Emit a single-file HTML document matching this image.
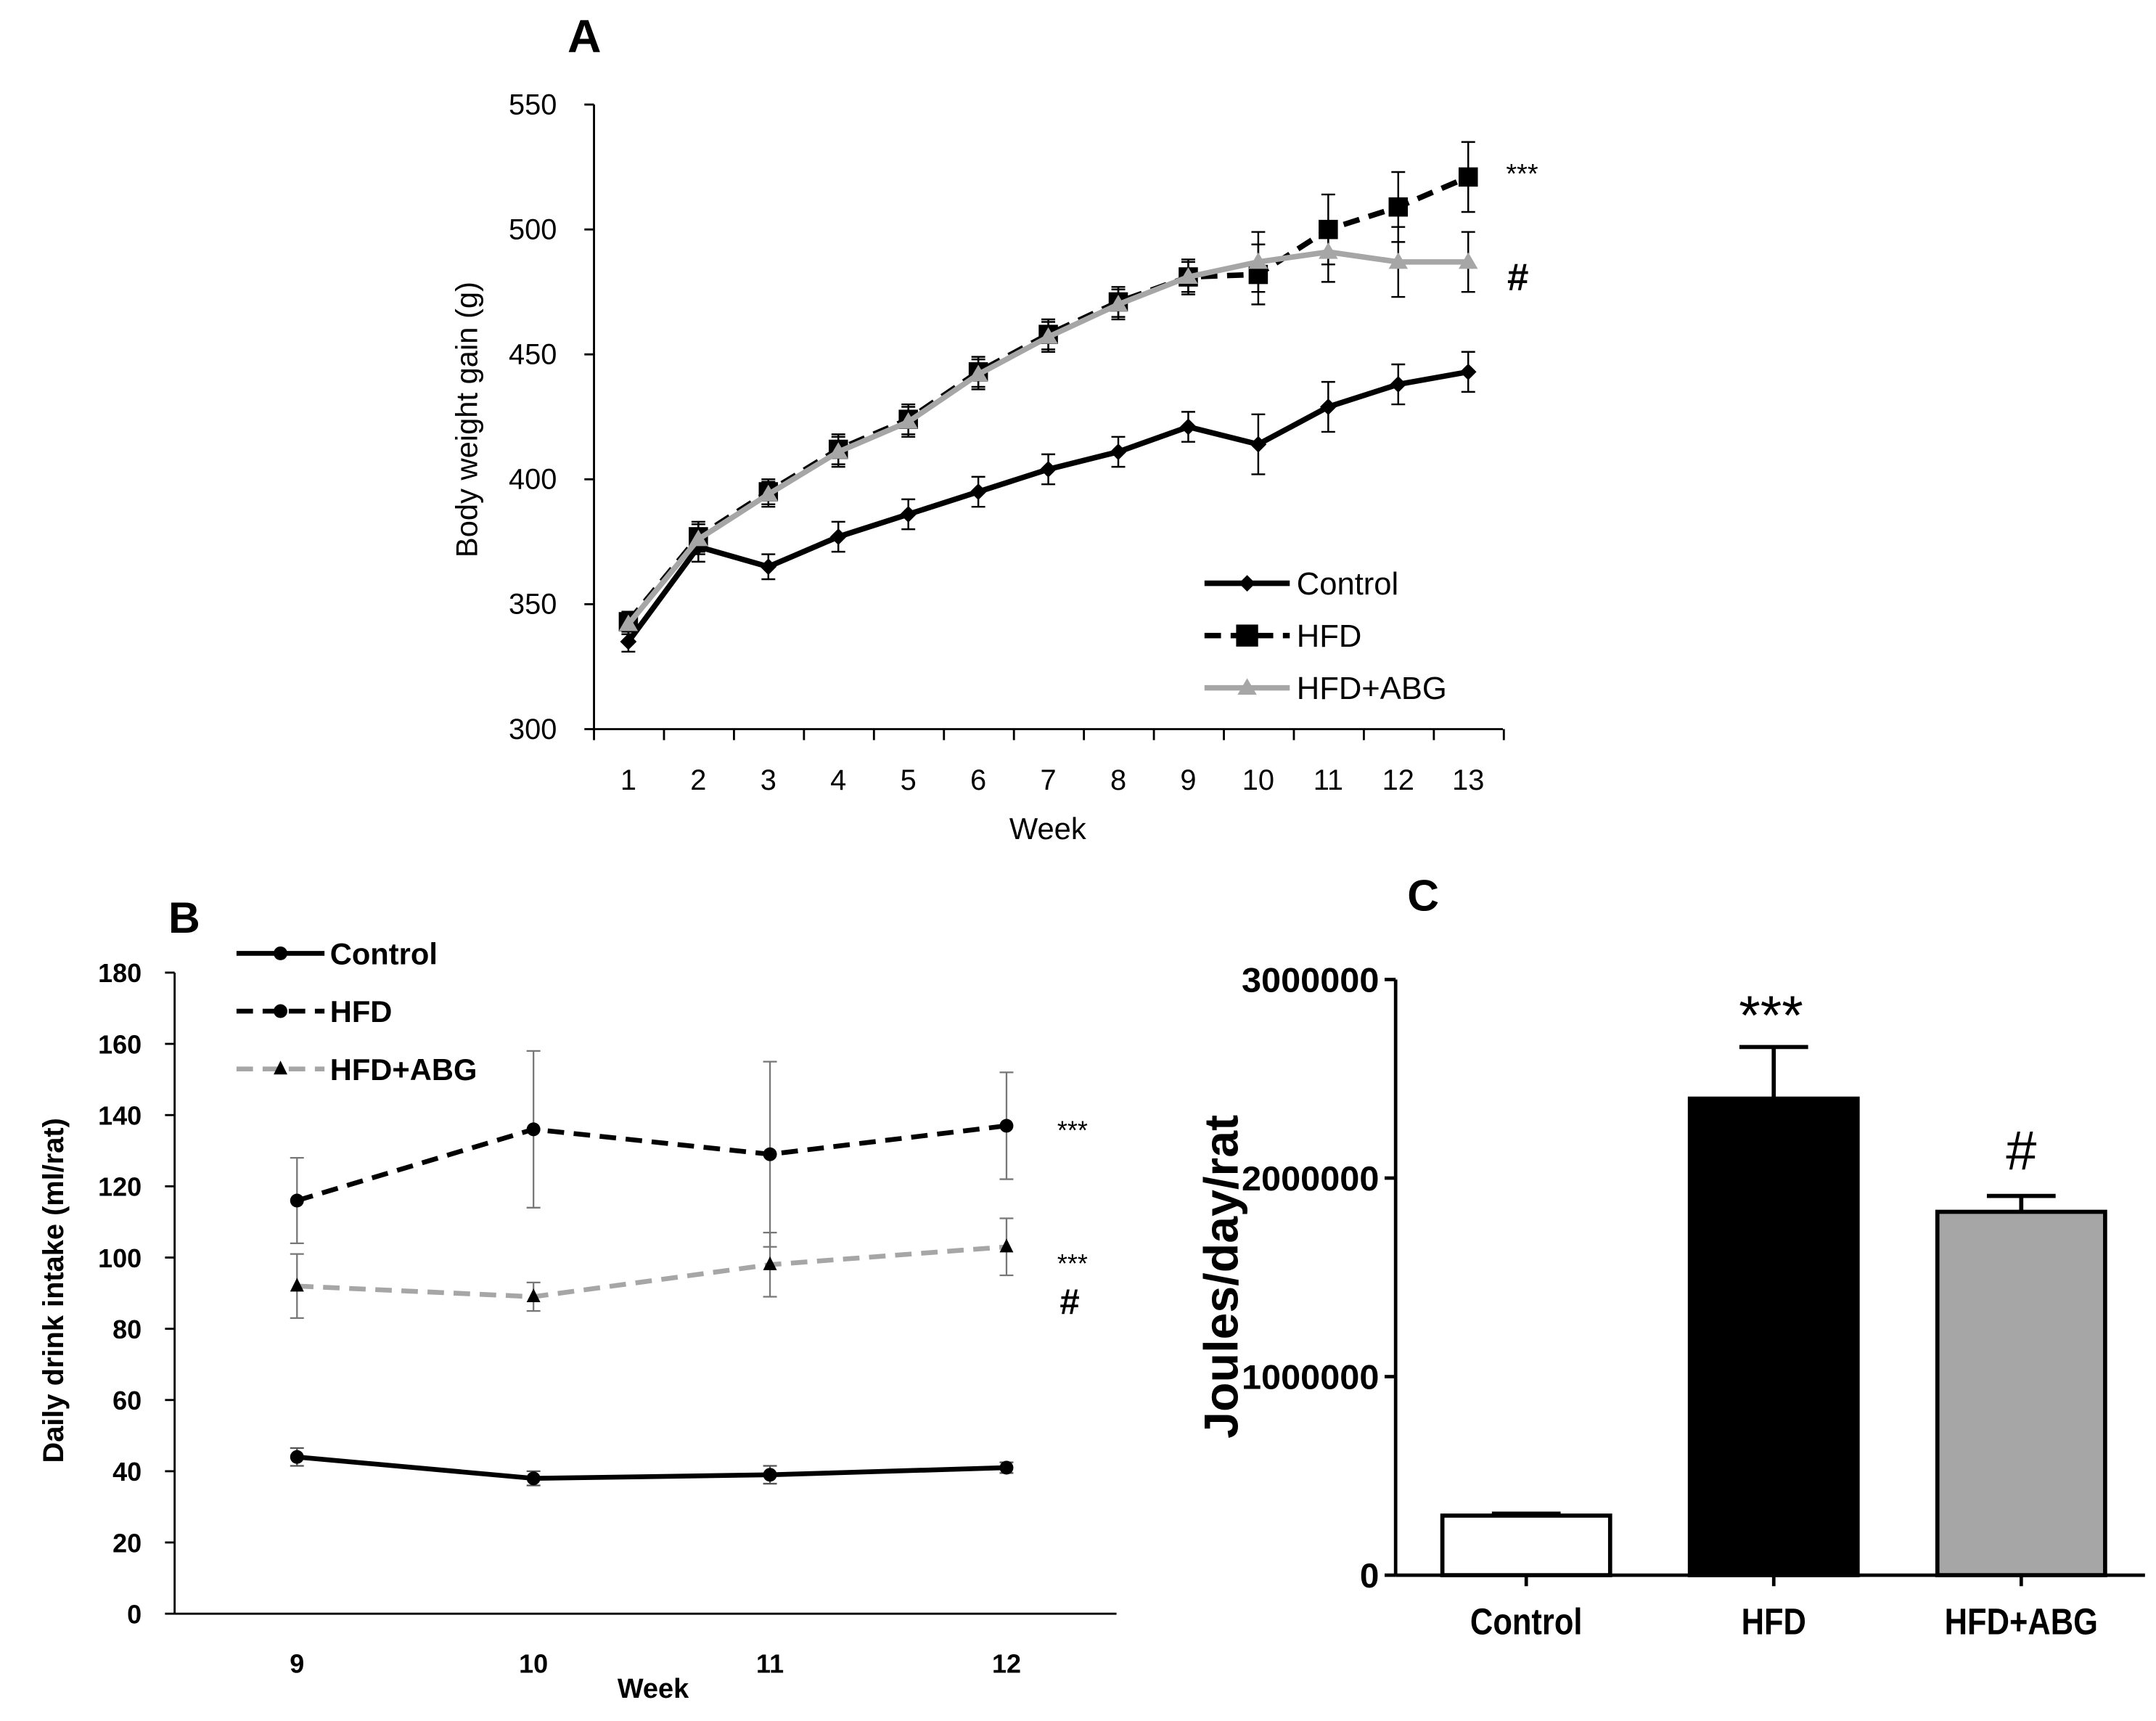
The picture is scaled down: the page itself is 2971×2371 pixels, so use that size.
<!DOCTYPE html>
<html><head><meta charset="utf-8"><style>
html,body{margin:0;padding:0;background:#fff}
svg{display:block}
text{font-family:"Liberation Sans",sans-serif}
</style></head><body>
<svg id="fig" width="2971" height="2371" viewBox="0 0 1568 1251" preserveAspectRatio="none" xmlns="http://www.w3.org/2000/svg">
<rect width="1568" height="1251" fill="#fff"/>
<g id="pa"></g>
<g id="pb"></g>
<g id="pc"></g>
</svg>
<script>
const NS="http://www.w3.org/2000/svg";
// Panel A data
const weeksA=[1,2,3,4,5,6,7,8,9,10,11,12,13];
const ticksA=[300,350,400,450,500,550];
const ctrlA=[335,373,365,377,386,395,404,411,421,414,429,438,443];
const ctrlAErr=[4,6,5,6,6,6,6,6,6,12,10,8,8];
const hfdA=[343,377,395,412,424,443,458,471,481,482,500,509,521];
const hfdAErr=[4,6,5,6,6,6,6,6,7,12,14,14,14];
const abgA=[342,376,394,411,423,442,457,470,481,487,491,487,487];
const abgAErr=[4,6,5,6,6,6,6,6,6,12,12,14,12];
// Panel B data
const weeksB=[9,10,11,12];
const ticksB=[0,20,40,60,80,100,120,140,160,180];
const ctrlB=[44,38,39,41];
const ctrlBErr=[2.5,2,2.5,1.5];
const hfdB=[116,136,129,137];
const hfdBErr=[12,22,26,15];
const abgB=[92,89,98,103];
const abgBErr=[9,4,9,8];
// Panel C data
const groupsC=["Control","HFD","HFD+ABG"];
const valuesC=[300000,2400000,1830000];
const errC=[10000,260000,80000];
const ticksC=[0,1000000,2000000,3000000];

function el(parent,tag,attrs,txt){const e=document.createElementNS(NS,tag);for(const k in attrs)e.setAttribute(k,attrs[k]);if(txt!==undefined)e.textContent=txt;parent.appendChild(e);return e;}

// ---------- Panel A ----------
(function(){
const g=document.getElementById('pa');
const xA=w=>457+(w-1)*50.9;
const yA=v=>530-(v-300)*454/250;
let t=el(g,'text',{x:425,y:38,'font-size':34,'font-weight':'bold','text-anchor':'middle'},'A');

let ax=el(g,'line',{x1:432,y1:76,x2:432,y2:530,stroke:'#000','stroke-width':1.5});

ax=el(g,'line',{x1:432,y1:530,x2:1093,y2:530,stroke:'#000','stroke-width':1.5});

ticksA.forEach(v=>{el(g,'line',{x1:425,y1:yA(v),x2:432,y2:yA(v),stroke:'#000','stroke-width':1.5});
 const l=el(g,'text',{x:405,y:yA(v)+7,'font-size':21,'text-anchor':'end'},v);
 });
for(let i=0;i<=13;i++){const x=432+i*50.9;el(g,'line',{x1:x,y1:530,x2:x,y2:538,stroke:'#000','stroke-width':1.5});}
weeksA.forEach(w=>{const l=el(g,'text',{x:xA(w),y:574,'font-size':21,'text-anchor':'middle'},w);
 });
t=el(g,'text',{x:762,y:610,'font-size':22,'text-anchor':'middle'},'Week');

t=el(g,'text',{x:0,y:0,'font-size':22,'text-anchor':'middle',transform:'translate(347,305) rotate(-90)'},'Body weight gain (g)');

function series(vals,errs,color,dash,marker,name){
 const s=el(g,'g',{});
 vals.forEach((v,i)=>{const x=xA(weeksA[i]);const e=errs[i];
  el(s,'line',{x1:x,y1:yA(v-e),x2:x,y2:yA(v+e),stroke:'#000','stroke-width':1.3});
  el(s,'line',{x1:x-5,y1:yA(v-e),x2:x+5,y2:yA(v-e),stroke:'#000','stroke-width':1.3});
  el(s,'line',{x1:x-5,y1:yA(v+e),x2:x+5,y2:yA(v+e),stroke:'#000','stroke-width':1.3});});
 el(s,'polyline',{points:vals.map((v,i)=>xA(weeksA[i])+','+yA(v)).join(' '),fill:'none',stroke:color,'stroke-width':4,'stroke-dasharray':dash});
 vals.forEach((v,i)=>{const x=xA(weeksA[i]),y=yA(v);let m;
  if(marker==='d')m=el(s,'polygon',{points:`${x},${y-6} ${x+6},${y} ${x},${y+6} ${x-6},${y}`,fill:color});
  else if(marker==='s')m=el(s,'rect',{x:x-7,y:y-7,width:14,height:14,fill:color});
  else m=el(s,'polygon',{points:`${x},${y-7} ${x+7},${y+5} ${x-7},${y+5}`,fill:color});
  });
}
series(ctrlA,ctrlAErr,'#000','none','d','control-series');
series(hfdA,hfdAErr,'#000','12,7','s','hfd-series');
series(abgA,abgAErr,'#a6a6a6','none','t','hfd-abg-series');
const leg=[['Control','#000','none','d',424],['HFD','#000','12,7','s',462],['HFD+ABG','#a6a6a6','none','t',500]];
leg.forEach(([n,c,d,m,y])=>{const lg=el(g,'g',{});
 el(lg,'line',{x1:876,y1:y,x2:938,y2:y,stroke:c,'stroke-width':4,'stroke-dasharray':d});const x=907;
 if(m==='d')el(lg,'polygon',{points:`${x},${y-6} ${x+6},${y} ${x},${y+6} ${x-6},${y}`,fill:c});
 else if(m==='s')el(lg,'rect',{x:x-8,y:y-8,width:16,height:16,fill:c});
 else el(lg,'polygon',{points:`${x},${y-7} ${x+7},${y+5} ${x-7},${y+5}`,fill:c});
 el(lg,'text',{x:943,y:y+8,'font-size':23},n);});
t=el(g,'text',{x:1107,y:133,'font-size':20,'text-anchor':'middle'},'***');
t=el(g,'text',{x:1104,y:211,'font-size':28,'font-weight':'bold','text-anchor':'middle'},'#');
})();

// ---------- Panel B ----------
(function(){
const g=document.getElementById('pb');
const xB=w=>216+(w-9)*172;
const yB=v=>1173-v*466/180;
let t=el(g,'text',{x:134,y:678,'font-size':32,'font-weight':'bold','text-anchor':'middle'},'B');

let ax=el(g,'line',{x1:127,y1:707,x2:127,y2:1173,stroke:'#000','stroke-width':1.5});
ax=el(g,'line',{x1:127,y1:1173,x2:812,y2:1173,stroke:'#000','stroke-width':1.5});
ticksB.forEach(v=>{el(g,'line',{x1:120,y1:yB(v),x2:127,y2:yB(v),stroke:'#000','stroke-width':1.5});
 const l=el(g,'text',{x:103,y:yB(v)+7,'font-size':19,'font-weight':'bold','text-anchor':'end'},v);
 });
weeksB.forEach(w=>{const l=el(g,'text',{x:xB(w),y:1216,'font-size':19,'font-weight':'bold','text-anchor':'middle'},w);
 });
t=el(g,'text',{x:475,y:1234,'font-size':20,'font-weight':'bold','text-anchor':'middle'},'Week');
t=el(g,'text',{x:0,y:0,'font-size':21,'font-weight':'bold','text-anchor':'middle',transform:'translate(46,938) rotate(-90)'},'Daily drink intake  (ml/rat)');

function series(vals,errs,color,dash,marker,ec,name){
 const s=el(g,'g',{});
 vals.forEach((v,i)=>{const x=xB(weeksB[i]);const e=errs[i];
  el(s,'line',{x1:x,y1:yB(v-e),x2:x,y2:yB(v+e),stroke:ec,'stroke-width':1.2});
  el(s,'line',{x1:x-5,y1:yB(v-e),x2:x+5,y2:yB(v-e),stroke:ec,'stroke-width':1.2});
  el(s,'line',{x1:x-5,y1:yB(v+e),x2:x+5,y2:yB(v+e),stroke:ec,'stroke-width':1.2});});
 el(s,'polyline',{points:vals.map((v,i)=>xB(weeksB[i])+','+yB(v)).join(' '),fill:'none',stroke:color,'stroke-width':3.5,'stroke-dasharray':dash});
 vals.forEach((v,i)=>{const x=xB(weeksB[i]),y=yB(v);let m;
  if(marker==='c')m=el(s,'circle',{cx:x,cy:y,r:5,fill:'#000'});
  else m=el(s,'polygon',{points:`${x},${y-6} ${x+5},${y+4} ${x-5},${y+4}`,fill:'#000'});
  });
}
series(ctrlB,ctrlBErr,'#000','none','c','#555','control-series');
series(hfdB,hfdBErr,'#000','12,7','c','#777','hfd-series');
series(abgB,abgBErr,'#a6a6a6','12,7','t','#777','hfd-abg-series');
[['Control','#000','none','c',693],['HFD','#000','12,7','c',735],['HFD+ABG','#a6a6a6','12,7','t',777]].forEach(([n,c,d,m,y])=>{
 const lg=el(g,'g',{});
 el(lg,'line',{x1:172,y1:y,x2:236,y2:y,stroke:c,'stroke-width':3.5,'stroke-dasharray':d});const x=204;
 if(m==='c')el(lg,'circle',{cx:x,cy:y,r:5,fill:'#000'});else el(lg,'polygon',{points:`${x},${y-6} ${x+5},${y+4} ${x-5},${y+4}`,fill:'#000'});
 el(lg,'text',{x:240,y:y+8,'font-size':22,'font-weight':'bold'},n);});
t=el(g,'text',{x:780,y:828,'font-size':19,'text-anchor':'middle'},'***');
t=el(g,'text',{x:780,y:925,'font-size':19,'text-anchor':'middle'},'***');
t=el(g,'text',{x:778,y:955,'font-size':26,'font-weight':'bold','text-anchor':'middle'},'#');
})();

// ---------- Panel C ----------
(function(){
const g=document.getElementById('pc');
const yC=v=>1145-v*433/3000000;
const xC=i=>1110+i*180;
let t=el(g,'text',{x:1035,y:662,'font-size':32,'font-weight':'bold','text-anchor':'middle'},'C');

let ax=el(g,'line',{x1:1015,y1:712,x2:1015,y2:1145,stroke:'#000','stroke-width':2.5});
ax=el(g,'line',{x1:1015,y1:1145,x2:1560,y2:1145,stroke:'#000','stroke-width':2.5});
ticksC.forEach(v=>{el(g,'line',{x1:1007,y1:yC(v),x2:1015,y2:yC(v),stroke:'#000','stroke-width':2.5});
 const l=el(g,'text',{x:1003,y:yC(v)+9,'font-size':25,'font-weight':'bold','text-anchor':'end',textLength:v?100:14,lengthAdjust:'spacingAndGlyphs'},v);
 });
const fills=['#fff','#000','#a6a6a6'];
valuesC.forEach((v,i)=>{const x=xC(i);
 const top=yC(v+errC[i]);
 el(g,'line',{x1:x,y1:yC(v),x2:x,y2:top,stroke:'#000','stroke-width':3});
 el(g,'line',{x1:x-25,y1:top,x2:x+25,y2:top,stroke:'#000','stroke-width':3});
 const b=el(g,'rect',{x:x-61,y:yC(v),width:122,height:1145-yC(v),fill:fills[i],stroke:'#000','stroke-width':3});
 
 el(g,'line',{x1:x,y1:1145,x2:x,y2:1153,stroke:'#000','stroke-width':2.5});
 const l=el(g,'text',{x:x,y:1188,'font-size':27,'font-weight':'bold','text-anchor':'middle',transform:`translate(${x},0) scale(0.85,1) translate(${-x},0)`},groupsC[i]);
 });
t=el(g,'text',{x:0,y:0,'font-size':35,'font-weight':'bold','text-anchor':'middle',transform:'translate(900,928) rotate(-90)'},'Joules/day/rat');

t=el(g,'text',{x:1288,y:752,'font-size':40,'text-anchor':'middle'},'***');
t=el(g,'text',{x:1470,y:850,'font-size':40,'text-anchor':'middle'},'#');
})();
</script>
</body></html>
